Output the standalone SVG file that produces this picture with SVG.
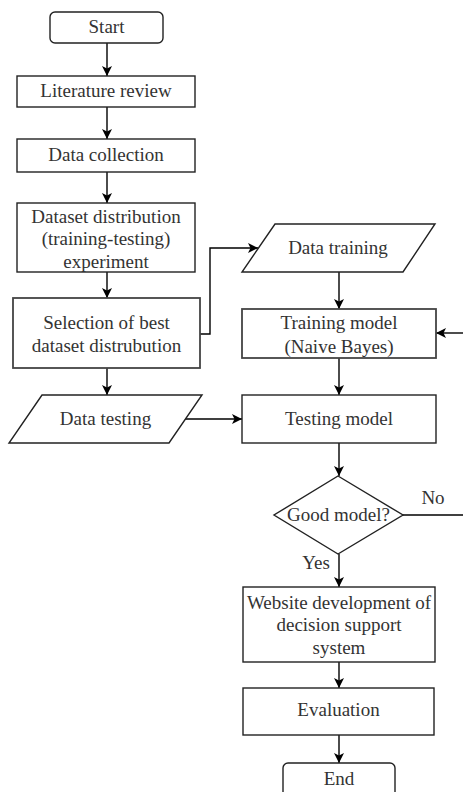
<svg xmlns="http://www.w3.org/2000/svg" width="463" height="792" viewBox="0 0 463 792" font-family="'Liberation Serif', 'Times New Roman', Times, 'DejaVu Serif', serif">
<defs>
<marker id="arr" markerUnits="userSpaceOnUse" markerWidth="11" markerHeight="11" refX="10" refY="5" orient="auto">
<path d="M0,0 L10,5 L0,10 L2.5,5 z" fill="#000"/>
</marker>
<style>
.box{fill:#fff;stroke:#222;stroke-width:1.4}
.t{font-family:'Liberation Serif','Times New Roman',Times,serif;font-size:19px;fill:#333;text-anchor:middle}
.c{fill:none;stroke:#000;stroke-width:1.4}
.a{marker-end:url(#arr)}
</style>
</defs>
<rect width="463" height="792" fill="#fff"/>
<g id="connectors">
<line class="c a" x1="107" y1="43" x2="107" y2="76"/>
<line class="c a" x1="107" y1="107" x2="107" y2="139"/>
<line class="c a" x1="107" y1="172" x2="107" y2="203"/>
<line class="c a" x1="107" y1="272" x2="107" y2="298"/>
<line class="c a" x1="107" y1="368" x2="107" y2="395"/>
<polyline class="c a" points="200,334 210,334 210,248 258,248"/>
<line class="c a" x1="339" y1="272" x2="339" y2="309"/>
<line class="c a" x1="339" y1="358" x2="339" y2="395"/>
<line class="c a" x1="185" y1="419" x2="242" y2="419"/>
<line class="c a" x1="339" y1="443" x2="339" y2="476"/>
<line class="c a" x1="339" y1="554" x2="339" y2="587"/>
<line class="c" x1="403" y1="515" x2="463" y2="515"/>
<line class="c a" x1="463" y1="333" x2="436" y2="333"/>
<line class="c a" x1="339" y1="662" x2="339" y2="688"/>
<line class="c a" x1="339" y1="735" x2="339" y2="763"/>
<text class="t" x="433" y="504">No</text>
<text class="t" x="316" y="569">Yes</text>
</g>
<g id="start">
<rect class="box" x="50" y="12" width="113" height="31" rx="5"/>
<text class="t" x="106.5" y="33">Start</text>
</g>
<g id="literature">
<rect class="box" x="17" y="76" width="178" height="31"/>
<text class="t" x="106" y="97">Literature review</text>
</g>
<g id="datacollection">
<rect class="box" x="17" y="139" width="178" height="33"/>
<text class="t" x="106" y="161">Data collection</text>
</g>
<g id="distribution">
<rect class="box" x="17" y="203" width="178" height="69"/>
<text class="t" x="106" y="223">Dataset distribution</text>
<text class="t" x="106" y="245">(training-testing)</text>
<text class="t" x="106" y="268">experiment</text>
</g>
<g id="selection">
<rect class="box" x="13" y="298" width="187" height="70" style="stroke:#444;stroke-width:1.8"/>
<text class="t" x="106.5" y="329">Selection of best</text>
<text class="t" x="106.5" y="352">dataset distrubution</text>
</g>
<g id="datatesting">
<polygon class="box" points="42,395 202,395 169,443 9,443"/>
<text class="t" x="105.5" y="425">Data testing</text>
</g>
<g id="datatraining">
<polygon class="box" points="275,224 435,224 403,272 242,272"/>
<text class="t" x="338" y="254">Data training</text>
</g>
<g id="trainingmodel">
<rect class="box" x="242" y="309" width="194" height="49" style="stroke:#444;stroke-width:1.8"/>
<text class="t" x="339" y="329">Training model</text>
<text class="t" x="339" y="353">(Naive Bayes)</text>
</g>
<g id="testingmodel">
<rect class="box" x="242" y="395" width="194" height="48"/>
<text class="t" x="339" y="425">Testing model</text>
</g>
<g id="goodmodel">
<polygon class="box" points="338,476 403,515 338,554 274,515"/>
<text class="t" x="338.5" y="521">Good model?</text>
</g>
<g id="website">
<rect class="box" x="243" y="587" width="192" height="75"/>
<text class="t" x="339" y="609">Website development of</text>
<text class="t" x="339" y="631">decision support</text>
<text class="t" x="339" y="654">system</text>
</g>
<g id="evaluation">
<rect class="box" x="243" y="688" width="191" height="47"/>
<text class="t" x="338.5" y="716">Evaluation</text>
</g>
<g id="end">
<rect class="box" x="283" y="763" width="112" height="40" rx="5"/>
<text class="t" x="339" y="785">End</text>
</g>
</svg>
